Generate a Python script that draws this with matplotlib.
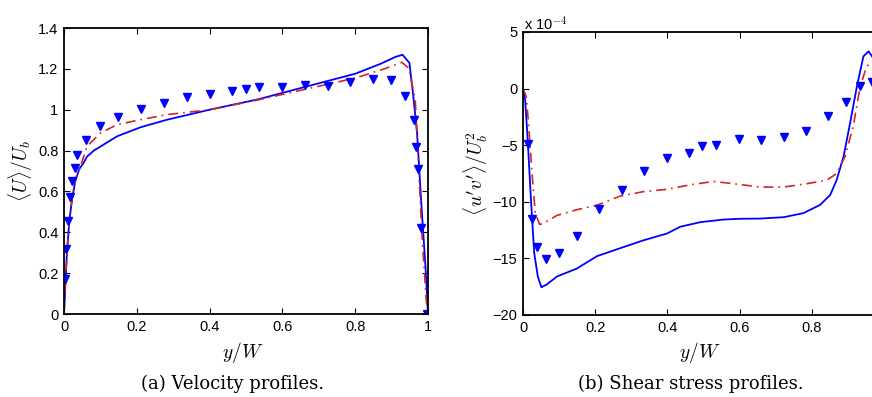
import matplotlib
matplotlib.use("Agg")
import matplotlib.pyplot as plt
import numpy as np

plt.rcParams['mathtext.fontset'] = 'cm'
plt.rcParams['font.family'] = ['Liberation Sans', 'DejaVu Sans']
plt.rcParams['axes.unicode_minus'] = False

# ---------------- (a) velocity profiles ----------------
u_exp_x = [0.004, 0.005, 0.011, 0.017, 0.023, 0.029, 0.036, 0.061, 0.098, 0.149,
           0.212, 0.274, 0.338, 0.400, 0.462, 0.499, 0.536, 0.600, 0.661, 0.724,
           0.786, 0.848, 0.898, 0.936, 0.961, 0.966, 0.972, 0.981, 0.998]
u_exp_y = [0.171, 0.318, 0.454, 0.573, 0.653, 0.713, 0.778, 0.850, 0.920, 0.963,
           1.002, 1.031, 1.061, 1.078, 1.093, 1.103, 1.111, 1.111, 1.119, 1.116,
           1.136, 1.149, 1.144, 1.065, 0.948, 0.817, 0.710, 0.419, 0.0]

u_les1_x = [0.0, 0.004, 0.008, 0.015, 0.022, 0.031, 0.042, 0.054, 0.063, 0.082, 0.146,
            0.21, 0.283, 0.4, 0.536, 0.65, 0.8, 0.87, 0.91, 0.930, 0.949, 0.96,
            0.97, 0.981, 0.993, 1.0]
u_les1_y = [0.0, 0.15, 0.30, 0.46, 0.56, 0.65, 0.71, 0.74, 0.77, 0.80, 0.87,
            0.914, 0.951, 1.0, 1.052, 1.106, 1.176, 1.225, 1.258, 1.269, 1.229, 1.06,
            0.886, 0.56, 0.233, 0.0]

u_les2_x = [0.0, 0.004, 0.009, 0.016, 0.024, 0.033, 0.045, 0.063, 0.10, 0.146, 0.21,
            0.283, 0.4, 0.536, 0.65, 0.8, 0.88, 0.928, 0.947, 0.965, 0.974,
            0.983, 0.995, 1.0]
u_les2_y = [0.0, 0.17, 0.33, 0.48, 0.59, 0.67, 0.72, 0.82, 0.886, 0.927, 0.951,
            0.976, 1.0, 1.049, 1.095, 1.155, 1.200, 1.232, 1.204, 1.05, 0.72,
            0.40, 0.07, 0.0]

# ---------------- (b) shear stress profiles (x 1e-4) ----------------
s_exp_x = [0.013, 0.026, 0.038, 0.063, 0.099, 0.149, 0.211, 0.273, 0.336, 0.399,
           0.460, 0.497, 0.534, 0.597, 0.659, 0.722, 0.783, 0.845, 0.894, 0.933, 0.967]
s_exp_y = [-4.88, -11.51, -13.96, -15.08, -14.52, -13.05, -10.63, -8.92, -7.30, -6.14,
           -5.73, -5.11, -4.99, -4.46, -4.52, -4.26, -3.78, -2.40, -1.17, 0.25, 0.55]

s_les1_x = [0.0, 0.006, 0.013, 0.022, 0.031, 0.041, 0.051, 0.066, 0.094, 0.149,
            0.205, 0.269, 0.334, 0.399, 0.436, 0.491, 0.555, 0.60, 0.657, 0.722,
            0.777, 0.823, 0.851, 0.869, 0.888, 0.906, 0.925, 0.943, 0.957, 0.967, 0.975]
s_les1_y = [0.0, -1.0, -4.5, -9.8, -14.5, -16.6, -17.55, -17.3, -16.6, -15.9,
            -14.8, -14.1, -13.4, -12.8, -12.2, -11.8, -11.57, -11.5, -11.48, -11.36,
            -11.0, -10.27, -9.4, -8.06, -6.0, -3.05, 0.2, 2.85, 3.29, 2.85, 2.3]

s_les2_x = [0.0, 0.009, 0.016, 0.025, 0.034, 0.046, 0.057, 0.094, 0.149, 0.205,
            0.269, 0.334, 0.399, 0.463, 0.528, 0.583, 0.657, 0.722, 0.786, 0.841,
            0.869, 0.892, 0.915, 0.934, 0.952, 0.967, 0.975]
s_les2_y = [0.0, -0.7, -3.35, -7.5, -11.0, -12.0, -11.9, -11.2, -10.7, -10.3,
            -9.5, -9.1, -8.9, -8.5, -8.2, -8.4, -8.7, -8.7, -8.4, -8.1,
            -7.5, -6.0, -3.3, 0.2, 1.96, 2.4, 2.2]

x_ticks = [0, 0.2, 0.4, 0.6, 0.8, 1]
u_ticks = [0, 0.2, 0.4, 0.6, 0.8, 1, 1.2, 1.4]
u_tick_labels = ['0', '0.2', '0.4', '0.6', '0.8', '1', '1.2', '1.4']
s_ticks = [-20, -15, -10, -5, 0, 5]
s_tick_labels = ['\u221220', '\u221215', '\u221210', '\u22125', '0', '5']

W, H = 872, 397
fig = plt.figure(figsize=(W / 100, H / 100), dpi=100)

ax1 = fig.add_axes([64 / W, 1 - 314 / H, 364 / W, 286 / H])
ax2 = fig.add_axes([523 / W, 1 - 315 / H, 361 / W, 283 / H])

blue = '#0000ff'
red = '#d42424'
dashdot = (0, (6, 3, 1, 3))

ax1.plot(u_les1_x, u_les1_y, color=blue, lw=1.3)
ax1.plot(u_les2_x, u_les2_y, color=red, lw=1.2, linestyle=dashdot)
ax1.plot(u_exp_x, u_exp_y, linestyle='none', marker='v', color=blue, ms=5.5)
ax1.set_xlim(0, 1)
ax1.set_ylim(0, 1.4)
ax1.set_xticks(x_ticks)
ax1.set_xticklabels(['0', '0.2', '0.4', '0.6', '0.8', '1'])
ax1.set_yticks(u_ticks)
ax1.set_yticklabels(u_tick_labels)
ax1.set_ylabel(r'$\langle U\rangle/U_b$', fontsize=14, labelpad=2)
ax1.set_xlabel(r'$y/W$', fontsize=14)

ax2.plot(s_les1_x, s_les1_y, color=blue, lw=1.3)
ax2.plot(s_les2_x, s_les2_y, color=red, lw=1.2, linestyle=dashdot)
ax2.plot(s_exp_x, s_exp_y, linestyle='none', marker='v', color=blue, ms=5.5)
ax2.set_xlim(0, 1)
ax2.set_ylim(-20, 5)
ax2.set_xticks(x_ticks)
ax2.set_xticklabels(['0', '0.2', '0.4', '0.6', '0.8', ''])
ax2.set_yticks(s_ticks)
ax2.set_yticklabels(s_tick_labels)
ax2.set_ylabel(r"$\langle u'v'\rangle/U_b^2$", fontsize=14, labelpad=2)
ax2.set_xlabel(r'$y/W$', fontsize=14)
ax1.xaxis.set_label_coords((243 - 64) / 364, -0.092)
ax2.xaxis.set_label_coords((700 - 523) / 361, -0.088)

for ax in (ax1, ax2):
    ax.tick_params(direction='in', length=4, width=0.8, top=True, right=True,
                   labelsize=10.5, pad=4)
    for s in ax.spines.values():
        s.set_linewidth(1.3)

fig.text(524 / W, 1 - 24 / H, r'x 10$^{-4}$', fontsize=10.5, ha='left', va='center')

fig.text(233 / W, 1 - 384 / H, '(a) Velocity profiles.', family='DejaVu Serif',
         fontsize=13, ha='center', va='center')
fig.text(691 / W, 1 - 384 / H, '(b) Shear stress profiles.', family='DejaVu Serif',
         fontsize=13, ha='center', va='center')

fig.savefig('out.png', dpi=100)
